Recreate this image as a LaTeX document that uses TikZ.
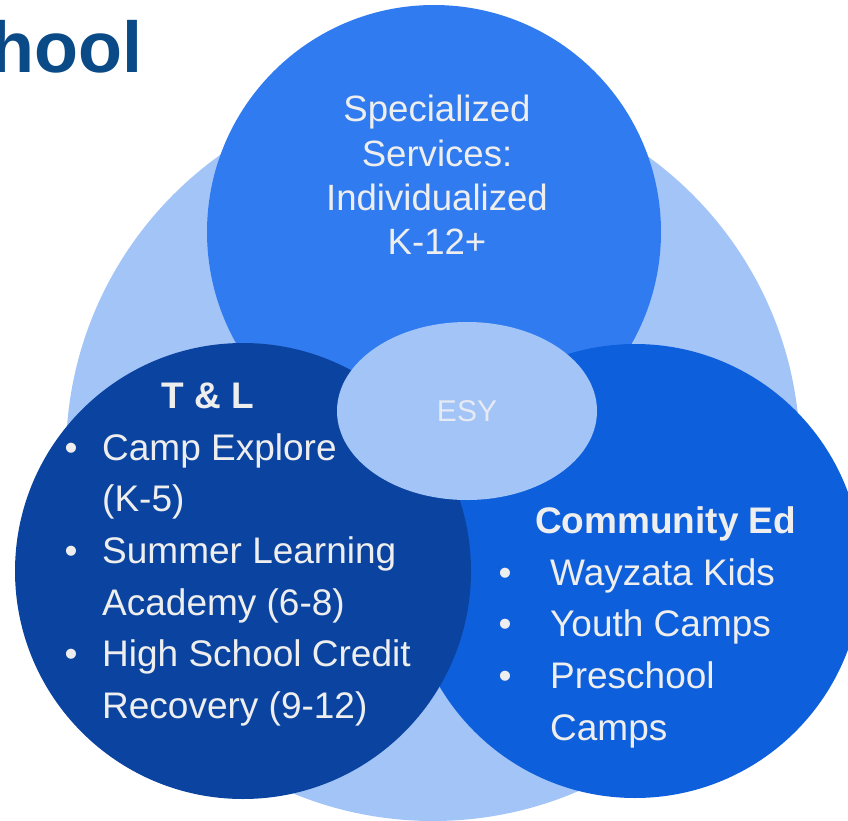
\documentclass[tikz,border=0pt]{standalone}
\usepackage{fontspec}
\setmainfont{Liberation Sans}
\usetikzlibrary{shapes.geometric}

\definecolor{ringlight}{HTML}{A3C4F7}
\definecolor{ringtop}{HTML}{317BF0}
\definecolor{ringright}{HTML}{0E5FDC}
\definecolor{ringleft}{HTML}{0B44A0}
\definecolor{titleblue}{HTML}{094A87}
\definecolor{labelgray}{HTML}{EEEEEE}
\definecolor{esygray}{HTML}{E6EAF2}

\tikzset{
  disc/.style={circle, inner sep=0pt, minimum size=#1},
  listtext/.style={text=labelgray, inner sep=0pt, font=\fontsize{37}{51.7}\selectfont},
  headtext/.style={text=labelgray, inner sep=0pt, font=\bfseries\fontsize{37}{51.7}\selectfont},
}
\newcommand{\bul}[1]{\makebox[#1][l]{\textbullet}}

\begin{document}
\begin{tikzpicture}[x=1pt, y=-1pt]
\useasboundingbox (0,0) rectangle (848,821);

%title
\node[anchor=base east, text=titleblue, inner sep=0pt,
      font=\bfseries\fontsize{72}{86}\selectfont] (title) at (143,73) {hool};

%circles
\node[disc=734pt, fill=ringlight] (all) at (433,454) {};
\node[disc=454pt, fill=ringtop] (spec) at (434,232) {};
\node[disc=454pt, fill=ringright] (comm) at (635,571) {};
\node[disc=456pt, fill=ringleft] (teach) at (243,571) {};

%overlap
\node[ellipse, fill=ringlight, minimum width=260pt, minimum height=178pt,
      inner sep=0pt, text=esygray, font=\fontsize{30}{36}\selectfont] (esy) at (467,411) {ESY};

%top text
\node[listtext, anchor=base, font=\fontsize{36.6}{44.3}\selectfont] (spectext) at (437,122)
  {\begin{tabular}[t]{@{}c@{}}Specialized\\Services:\\Individualized\\K-12+\end{tabular}};

%left text
\node[headtext, anchor=base] (teachhead) at (208,408) {T \& L};
\node[listtext, anchor=base west] (teachlist) at (64.5,460)
  {\begin{tabular}[t]{@{}l@{}l@{}}
   \bul{37.5pt} & Camp Explore\\
                & (K-5)\\
   \bul{37.5pt} & Summer Learning\\
                & Academy (6-8)\\
   \bul{37.5pt} & High School Credit\\
                & Recovery (9-12)
   \end{tabular}};

%right text
\node[headtext, anchor=base west] (commhead) at (535,533) {Community Ed};
\node[listtext, anchor=base west] (commlist) at (498.5,585)
  {\begin{tabular}[t]{@{}l@{}l@{}}
   \bul{51.5pt} & Wayzata Kids\\
   \bul{51.5pt} & Youth Camps\\
   \bul{51.5pt} & Preschool\\
                & Camps
   \end{tabular}};
\end{tikzpicture}
\end{document}
